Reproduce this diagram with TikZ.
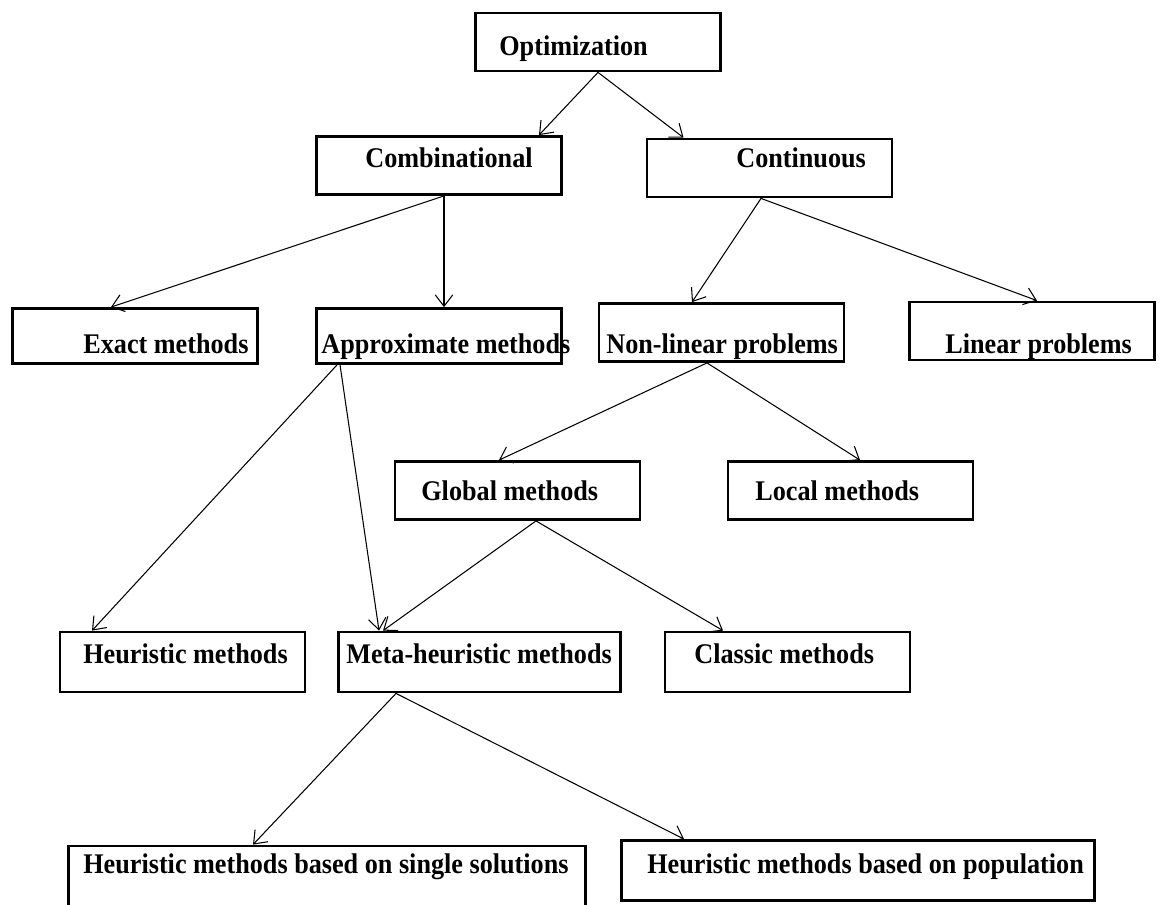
\documentclass[tikz,border=0pt]{standalone}
\usepackage{fontspec}
\setmainfont{Liberation Serif}[FakeStretch=0.92]
\usetikzlibrary{arrows.meta}

\begin{document}
\begin{tikzpicture}[x=0.02cm, y=-0.02cm,
  box/.style={draw, line width=1.6pt, minimum width=4.9cm, minimum height=1.16cm, inner sep=0pt},
  lbl/.style={anchor=base west, inner sep=0pt, font=\fontsize{16.2}{19}\selectfont\bfseries},
  arr/.style={-{Straight Barb[length=6.5pt, width=10pt]}, line width=0.6pt}]
\clip (0, 0) rectangle (1160, 904) ;

\node (opt) at (598, 42) [box] {} ;
\node (comb) at (439, 165.5) [box] {} ;
\node (cont) at (769.5, 168) [box] {} ;
\node (exact) at (135, 336) [box, minimum height=1.1cm] {} ;
\node (approx) at (439, 336) [box, minimum height=1.1cm] {} ;
\node (nonlin) at (721.5, 332.5) [box] {} ;
\node (linear) at (1032, 331) [box] {} ;
\node (glob) at (517.5, 490.5) [box] {} ;
\node (loc) at (850.5, 490.5) [box] {} ;
\node (heur) at (182.5, 662) [box, minimum height=1.2cm] {} ;
\node (meta) at (479.5, 662) [box, minimum width=5.64cm, minimum height=1.2cm] {} ;
\node (classic) at (787.5, 662) [box, minimum height=1.2cm] {} ;
\node (single) at (327, 876) [box, minimum width=10.34cm, minimum height=1.2cm] {} ;
\node (pop) at (858, 870.5) [box, minimum width=9.46cm, minimum height=1.2cm] {} ;

\node (opt-t) at (499, 55) [lbl] {Optimization} ;
\node (comb-t) at (365, 167) [lbl] {Combinational} ;
\node (cont-t) at (736, 167) [lbl] {Continuous} ;
\node (exact-t) at (83, 353) [lbl] {Exact\ methods} ;
\node (approx-t) at (321, 353) [lbl] {Approximate methods} ;
\node (nonlin-t) at (606, 353) [lbl] {Non-linear problems} ;
\node (linear-t) at (945, 353) [lbl] {Linear problems} ;
\node (glob-t) at (421, 500) [lbl] {Global methods} ;
\node (loc-t) at (755, 500) [lbl] {Local methods} ;
\node (heur-t) at (83, 663) [lbl] {Heuristic methods} ;
\node (meta-t) at (346, 663) [lbl] {Meta-heuristic methods} ;
\node (classic-t) at (694, 663) [lbl] {Classic methods} ;
\node (single-t) at (83, 873) [lbl] {Heuristic methods based on single solutions} ;
\node (pop-t) at (647, 873) [lbl] {Heuristic methods based on population} ;

\draw [arr] (opt.south) -- ([xshift=2cm]comb.north) ;
\draw [arr] (opt.south) -- ([xshift=-1.72cm]cont.north) ;
\draw [arr] ([xshift=0.1cm]comb.south) -- ([xshift=-0.48cm]exact.north) ;
\draw [arr] ([xshift=0.1cm]comb.south) -- ([xshift=0.1cm]approx.north) ;
\draw [arr] ([xshift=-0.17cm]cont.south) -- ([xshift=-0.59cm]nonlin.north) ;
\draw [arr] ([xshift=-0.17cm]cont.south) -- ([xshift=0.1cm]linear.north) ;
\draw [arr] ([xshift=-0.29cm]nonlin.south) -- ([xshift=-0.37cm]glob.north) ;
\draw [arr] ([xshift=-0.29cm]nonlin.south) -- ([xshift=0.19cm]loc.north) ;
\draw [arr] ([xshift=-2.04cm]approx.south) -- ([xshift=-1.81cm]heur.north) ;
\draw [arr] ([xshift=-1.98cm]approx.south) -- ([xshift=-2.01cm]meta.north) ;
\draw [arr] ([xshift=0.37cm]glob.south) -- ([xshift=-1.93cm]meta.north) ;
\draw [arr] ([xshift=0.37cm]glob.south) -- ([xshift=-1.29cm]classic.north) ;
\draw [arr] ([xshift=-1.67cm]meta.south) -- ([xshift=-1.48cm]single.north) ;
\draw [arr] ([xshift=-1.67cm]meta.south) -- ([xshift=-3.48cm]pop.north) ;
\end{tikzpicture}
\end{document}
